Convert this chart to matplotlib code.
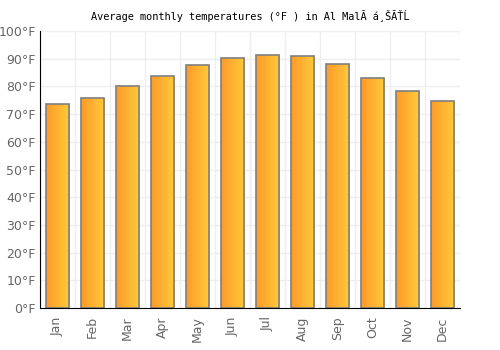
import numpy as np
import matplotlib
matplotlib.use("Agg")
import matplotlib.pyplot as plt
from matplotlib.colors import LinearSegmentedColormap

months = ["Jan", "Feb", "Mar", "Apr", "May", "Jun",
          "Jul", "Aug", "Sep", "Oct", "Nov", "Dec"]
temps_f = [73.7, 75.9, 80.1, 83.7, 87.7, 90.2, 91.3, 90.9, 88.1, 83.0, 78.3, 74.7]
y_ticks = [0, 10, 20, 30, 40, 50, 60, 70, 80, 90, 100]
title = "Average monthly temperatures (°F ) in Al MalĂ á¸ŠĂŤĹ"

fig = plt.figure(figsize=(5, 3.5), dpi=100)
ax = fig.add_axes([0.08, 0.12, 0.84, 0.7914])

x = np.arange(len(months))
bars = ax.bar(x, temps_f, width=0.66, facecolor="none", edgecolor="#7f7f7f",
              linewidth=1.2, zorder=3)

# left-to-right orange/yellow gradient inside each bar
cmap = LinearSegmentedColormap.from_list("sun", ["#ff9a2a", "#ffcb3a"])
grad = np.linspace(0, 1, 64).reshape(1, -1)
for b in bars:
    x0, y0 = b.get_x(), b.get_y()
    w, h = b.get_width(), b.get_height()
    im = ax.imshow(grad, cmap=cmap, aspect="auto", extent=[x0, x0 + w, y0, y0 + h],
                   zorder=2)
    im.set_clip_path(b)

ax.set_xlim(-0.5, len(months) - 0.5)
ax.set_ylim(0, 100)
ax.set_yticks(y_ticks)
ax.set_yticklabels([f"{t}°F" for t in y_ticks])
ax.set_xticks(x)
ax.set_xticklabels(months, rotation=90)
ax.set_xticks(np.arange(-0.5, len(months)), minor=True)

ax.grid(True, which="major", axis="y", color="#eeeeee", linewidth=1, zorder=0)
ax.grid(True, which="minor", axis="x", color="#eeeeee", linewidth=1, zorder=0)
ax.tick_params(axis="both", which="both", length=0, labelsize=9, labelcolor="#666666")
ax.tick_params(axis="x", pad=6)
ax.tick_params(axis="y", pad=3)

for s in ["top", "right"]:
    ax.spines[s].set_visible(False)
ax.spines["left"].set_color("black")
ax.spines["bottom"].set_color("black")
ax.spines["left"].set_zorder(4)
ax.spines["bottom"].set_zorder(4)

fig.text(0.5, 0.955, title, ha="center", va="center", fontsize=7.4,
         family=["DejaVu Sans Mono"], color="black")

fig.savefig("out.png", dpi=100)
